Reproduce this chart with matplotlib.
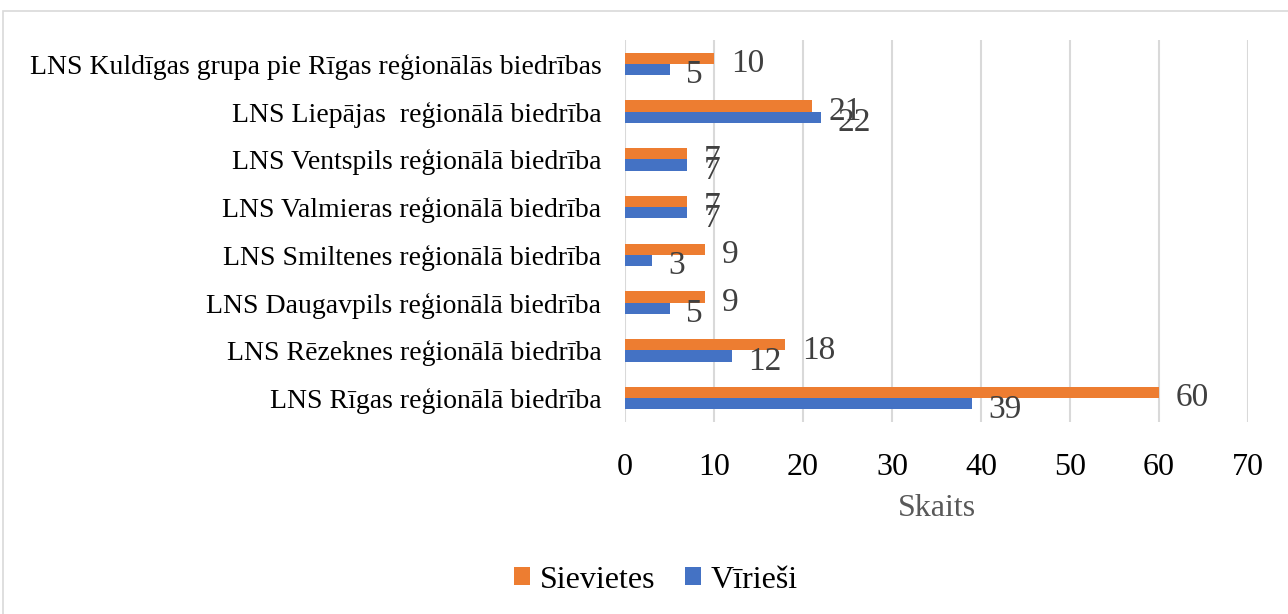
import matplotlib
matplotlib.use("Agg")
import matplotlib.pyplot as plt
import numpy as np
from matplotlib.patches import Rectangle

categories = [
    "LNS Rīgas reģionālā biedrība",
    "LNS Rēzeknes reģionālā biedrība",
    "LNS Daugavpils reģionālā biedrība",
    "LNS Smiltenes reģionālā biedrība",
    "LNS Valmieras reģionālā biedrība",
    "LNS Ventspils reģionālā biedrība",
    "LNS Liepājas  reģionālā biedrība",
    "LNS Kuldīgas grupa pie Rīgas reģionālās biedrības",
]
sievietes = [60, 18, 9, 9, 7, 7, 21, 10]
viriesi = [39, 12, 5, 3, 7, 7, 22, 5]
xticks = [0, 10, 20, 30, 40, 50, 60, 70]

plt.rcParams['font.family'] = ['Liberation Serif', 'DejaVu Serif']

fig = plt.figure(figsize=(12.88, 6.14), dpi=100)
fig.patches.append(Rectangle((3/1288, -0.1), 1.2, 1 - 11/614 + 0.1,
                             transform=fig.transFigure, fill=False,
                             edgecolor='#d9d9d9', linewidth=1.2))
ax = fig.add_axes([625/1288, 1 - 422/614, (1248-625)/1288, (422-40)/614])

y = np.arange(len(categories))
h = 0.235
orange = '#ED7D31'
blue = '#4472C4'
b1 = ax.barh(y + h/2, sievietes, height=h, color=orange, label='Sievietes', zorder=3)
b2 = ax.barh(y - h/2, viriesi, height=h, color=blue, label='Vīrieši', zorder=3)
for vals, offs in ((sievietes, h/2), (viriesi, -h/2)):
    for yi, v in zip(y, vals):
        ax.annotate(str(v), xy=(v, yi + offs), xytext=(12, -4),
                    textcoords='offset points', ha='left', va='center',
                    fontsize=24, color='#404040', zorder=4)

ax.set_xlim(0, 70)
ax.set_ylim(-0.5, len(categories) - 0.5)
ax.set_xticks(xticks)
ax.set_yticks(y)
ax.set_yticklabels(categories, fontsize=20)
ax.tick_params(axis='x', labelsize=23, length=0, pad=22)
ax.tick_params(axis='y', length=0, pad=17)
ax.grid(axis='x', color='#d9d9d9', linewidth=1.5, zorder=0)
for s in ax.spines.values():
    s.set_visible(False)
ax.set_xlabel('Skaits', fontsize=23, color='#595959', labelpad=9)

leg = ax.legend(loc='center', bbox_to_anchor=(656/1288, 1 - 580/614),
                bbox_transform=fig.transFigure, ncol=2, frameon=False,
                fontsize=23, handlelength=0.5, handleheight=0.5,
                handletextpad=0.3, columnspacing=0.95)

fig.savefig('out.png', dpi=100)
